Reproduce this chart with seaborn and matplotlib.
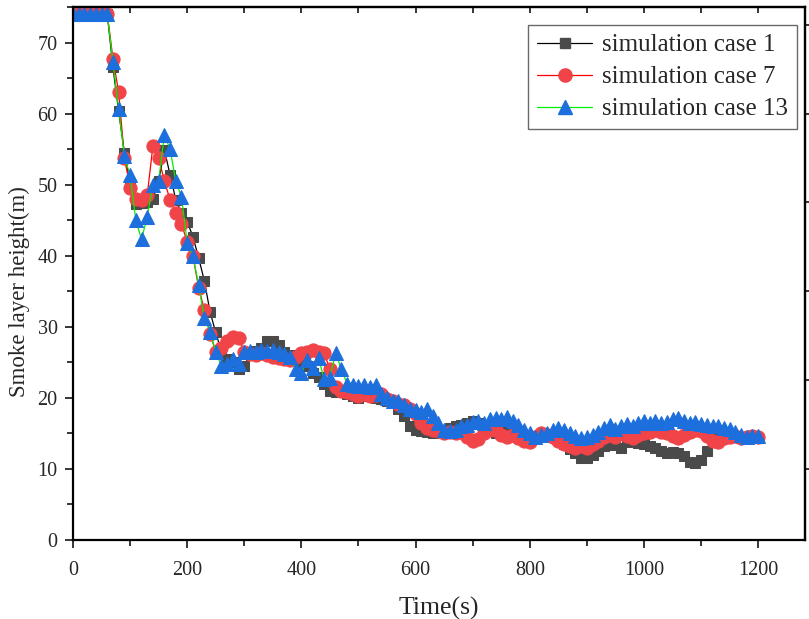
import numpy as np
import pandas as pd
import matplotlib
matplotlib.use("Agg")
import matplotlib.pyplot as plt
from matplotlib.lines import Line2D
from matplotlib.ticker import MultipleLocator, FixedLocator
import seaborn as sns

time_s = list(range(0, 1201, 10))

case1 = [74, 74, 74, 74, 74, 74, 74, 66.5, 60.3, 54.5,
         50.3, 47.3, 47.4, 47.6, 48.0, 50.5, 54.9, 51.4, 47.9, 46.0,
         44.8, 42.7, 39.7, 36.5, 32.1, 29.2, 26.5, 25.5, 25.0, 24.0,
         24.5, 26.2, 26.6, 27.0, 28.0, 28.0, 27.5, 26.5, 26.0, 25.5,
         25.0, 24.5, 23.5, 23.0, 22.0, 21.0, 20.8, 21.0, 20.5, 20.2,
         20.0, 20.3, 20.5, 20.0, 19.8, 19.5, 19.3, 18.5, 17.5, 16.0,
         15.5, 15.3, 15.2, 15.0, 15.3, 15.5, 15.8, 16.0, 16.2, 16.5,
         16.8, 16.5, 15.8, 15.5, 15.0, 15.2, 15.5, 15.0, 14.6, 14.5,
         14.0, 14.3, 14.6, 14.8, 14.5, 14.3, 13.5, 12.8, 12.2, 11.6,
         11.5, 12.0, 12.5, 13.2, 13.5, 13.4, 13.0, 13.8, 14.0, 13.6,
         13.5, 13.2, 13.0, 12.5, 12.2, 12.4, 12.3, 11.8, 11.0, 10.8,
         11.2, 12.5, 14.0, 14.5, 14.4, 14.6, 14.5, 14.4, 14.3, 14.5,
         14.4]

case7 = [74, 74, 74, 74, 74, 74, 74, 67.7, 63.0, 53.8,
         49.6, 48.0, 47.8, 48.5, 55.5, 53.8, 50.5, 47.9, 46.0, 44.4,
         42.0, 40.0, 35.5, 32.4, 29.0, 26.5, 27.0, 28.0, 28.6, 28.4,
         26.5, 26.2, 26.0, 26.3, 26.0, 25.8, 25.6, 25.5, 25.3, 25.8,
         26.3, 26.5, 26.8, 26.5, 26.3, 24.0, 21.5, 21.0, 20.8, 20.5,
         20.3, 20.5, 20.2, 20.4, 20.5, 19.8, 19.5, 19.2, 19.0, 18.5,
         17.8, 16.5, 15.8, 15.5, 15.3, 15.0, 15.2, 15.0, 15.2, 14.5,
         14.0, 14.2, 15.0, 15.5, 15.5, 14.8, 14.5, 14.8, 14.3, 14.0,
         13.8, 14.5, 15.0, 14.8, 14.5, 14.0, 13.5, 13.2, 13.0, 13.2,
         13.0, 13.5, 14.0, 14.5, 14.8, 14.5, 15.0, 14.6, 14.4, 14.8,
         15.0, 15.2, 15.5, 15.2, 15.0, 14.6, 14.4, 14.8, 15.2, 15.5,
         15.3, 14.6, 14.0, 13.8, 14.3, 14.5, 14.6, 14.3, 14.5, 14.6,
         14.5]

case13 = [74, 74, 74, 74, 74, 74, 74, 67.2, 60.6, 54.0,
          51.3, 45.0, 42.3, 45.5, 50.0, 50.5, 57.0, 55.0, 50.5, 48.3,
          41.8, 40.0, 35.9, 31.2, 29.3, 26.5, 24.5, 24.8, 25.5, 24.8,
          26.5, 26.6, 26.5, 26.8, 26.6, 26.7, 26.5, 26.2, 25.8, 24.0,
          23.5, 25.3, 24.2, 25.6, 22.6, 22.8, 26.3, 24.0, 22.0, 21.8,
          21.7, 21.8, 21.5, 21.8, 20.5, 20.0, 19.5, 19.5, 19.0, 18.5,
          18.3, 18.0, 18.5, 17.5, 16.5, 15.5, 15.3, 15.5, 16.0, 16.2,
          16.6, 16.8, 16.5, 17.0, 17.2, 17.0, 17.3, 16.8, 16.2, 15.5,
          15.0, 14.5, 14.8, 15.0, 15.5, 15.8, 15.5, 15.0, 14.6, 14.3,
          14.5, 14.8, 15.2, 15.8, 16.2, 15.6, 16.0, 16.3, 16.0, 16.5,
          16.7, 16.5, 16.8, 16.5, 16.6, 17.0, 17.2, 16.8, 16.5, 16.6,
          16.3, 16.2, 16.0, 16.1, 15.8, 15.6, 15.2, 14.8, 14.5, 14.6,
          14.7]

labels = ["simulation case 1", "simulation case 7", "simulation case 13"]

sns.set_style("white")
plt.rcParams["font.family"] = ["Liberation Serif", "DejaVu Serif"]

fig = plt.figure(figsize=(8.09, 6.19), dpi=100)
ax = fig.add_axes([73 / 809, 1 - 540 / 619, 732 / 809, 533 / 619])

styles = [
    dict(color="#000000", marker="s", markersize=7.5, markerfacecolor="#4a4a4a",
         markeredgecolor="#4a4a4a", linewidth=0.9),
    dict(color="#ff0000", marker="o", markersize=9.5, markerfacecolor="#f04448",
         markeredgecolor="#f04448", linewidth=0.9),
    dict(color="#00ee00", marker="^", markersize=10.5, markerfacecolor="#1c6fdc",
         markeredgecolor="#1c6fdc", linewidth=0.9),
]

for lab, vals, st in zip(labels, [case1, case7, case13], styles):
    sns.lineplot(x=time_s, y=vals, ax=ax, estimator=None, sort=False,
                 legend=False, **st)

ax.set_xlim(0, 1282)
ax.set_ylim(0, 75)
ax.xaxis.set_major_locator(MultipleLocator(200))
ax.xaxis.set_minor_locator(MultipleLocator(100))
ax.yaxis.set_major_locator(MultipleLocator(10))
ax.yaxis.set_minor_locator(MultipleLocator(5))

for s in ax.spines.values():
    s.set_linewidth(1.6)
    s.set_color("black")

ax.tick_params(axis="both", which="major", direction="out", length=6, width=1.3,
               labelsize=14.5, bottom=True, left=True, top=False, right=False)
ax.tick_params(axis="x", which="major", pad=9)
ax.tick_params(axis="y", which="major", pad=5)
ax.tick_params(axis="both", which="minor", direction="out", length=4, width=1.3,
               bottom=True, left=True, top=False, right=False)

# top ticks (inward) and right ticks (outward), no labels
secx = ax.secondary_xaxis("top")
secx.xaxis.set_major_locator(MultipleLocator(100))
secx.tick_params(direction="in", length=4, width=1.3, labeltop=False)
secx.spines["top"].set_linewidth(1.6)
secy = ax.secondary_yaxis("right")
secy.yaxis.set_major_locator(FixedLocator([10, 22.5, 35, 47.5, 60, 72.5]))
secy.tick_params(direction="out", length=4, width=1.3, labelright=False)
secy.spines["right"].set_linewidth(1.6)

ax.set_xlabel("Time(s)", fontsize=18.5, labelpad=12)
ax.set_ylabel("Smoke layer height(m)", fontsize=16.5)
ax.yaxis.set_label_coords((30 - 73) / 732, (540 - 292) / 533)

handles = [Line2D([], [], **st) for st in styles]
leg = ax.legend(handles, labels, loc="upper right",
                bbox_to_anchor=((797 - 73) / 732, (540 - 25) / 533),
                borderaxespad=0, fontsize=18, frameon=True, fancybox=False,
                handlelength=2.2, handletextpad=0.4, labelspacing=0.38,
                borderpad=0.35)
leg.get_frame().set_edgecolor("#444444")
leg.get_frame().set_linewidth(1.0)

fig.savefig("out.png", dpi=100)
